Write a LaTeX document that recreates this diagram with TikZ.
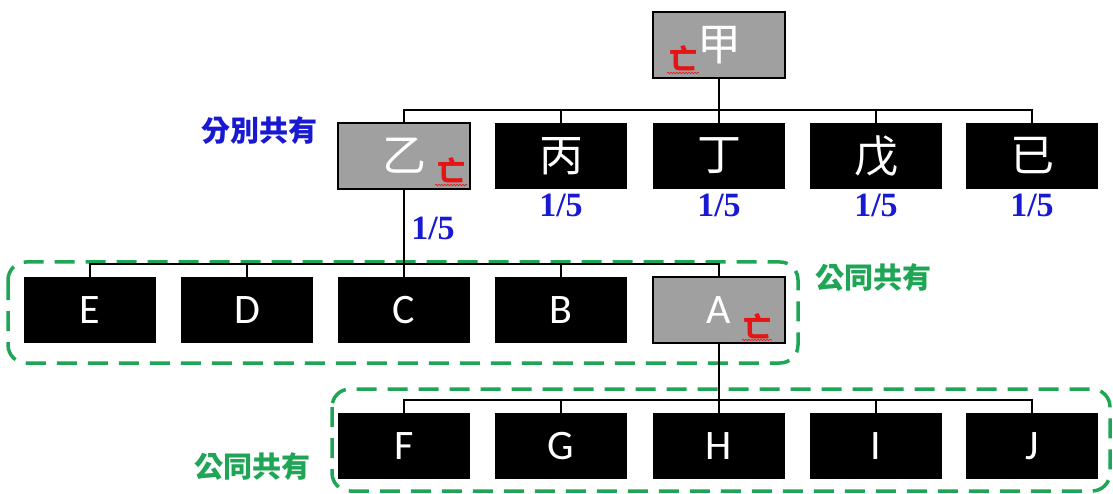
\documentclass[tikz,border=0pt]{standalone}
\usepackage{fontspec}
\setmainfont{Liberation Serif}
\newfontfamily\cjk{Noto Sans CJK TC}
\newfontfamily\latf{Carlito}
\usetikzlibrary{decorations.pathmorphing}
\definecolor{gbox}{RGB}{160,160,160}
\definecolor{grn}{RGB}{30,165,85}
\definecolor{blu}{RGB}{25,25,210}
\definecolor{rd}{RGB}{230,20,20}
\begin{document}
\begin{tikzpicture}[x=1pt,y=-1pt,
 person/.style={minimum width=132pt,minimum height=66pt,inner sep=0pt,text=white},
 alive/.style={person,fill=black},
 dead/.style={person,fill=gbox,draw=black,line width=2pt},
 cjkname/.style={font=\cjk\fontsize{44}{44}\selectfont},
 latname/.style={font=\latf\fontsize{42}{42}\selectfont},
 link/.style={line width=1.6pt},
 share/.style={text=blu,inner sep=0pt,font=\bfseries\fontsize{34}{34}\selectfont},
 group/.style={draw=grn,line width=3.5pt,dash pattern=on 20pt off 11pt,rounded corners=18pt},
 grouplabel/.style={text=grn,inner sep=0pt,font=\cjk\bfseries\fontsize{29}{29}\selectfont},
 deceased/.style={text=rd,font=\cjk\bfseries\fontsize{28}{28}\selectfont,inner sep=0pt},
 squig/.style={draw=rd,line width=0.6pt,decorate,decoration={snake,amplitude=0.8pt,segment length=3pt}}
]
\useasboundingbox (0,0) rectangle (1113,494);

% generation 1
\node[dead,cjkname] (jia) at (719,45) {甲};
% generation 2
\node[dead,cjkname] (yi) at (404,156) {乙};
\node[alive,cjkname] (bing) at (561,156) {丙};
\node[alive,cjkname] (ding) at (719,156) {丁};
\node[alive,cjkname] (wu) at (876,156) {戊};
\node[alive,cjkname] (ji) at (1032,156) {已};
% generation 3
\node[alive,latname] (E) at (90,310) {E};
\node[alive,latname] (D) at (247,310) {D};
\node[alive,latname] (C) at (404,310) {C};
\node[alive,latname] (B) at (561,310) {B};
\node[dead,latname] (A) at (719,310) {A};
% generation 4
\node[alive,latname] (F) at (404,446) {F};
\node[alive,latname] (G) at (561,446) {G};
\node[alive,latname] (H) at (719,446) {H};
\node[alive,latname] (I) at (876,446) {I};
\node[alive,latname] (J) at (1032,446) {J};

% groups
\draw[group] (8,262) rectangle (798,363);
\draw[group] (332,389) rectangle (1110,491);

% connectors
\coordinate (bar1) at (719,110);
\coordinate (bar2) at (404,264);
\coordinate (bar3) at (719,400);
\draw[link] (jia.south) -- (bar1);
\draw[link] (yi.north) |- (bar1);
\draw[link] (ji.north) |- (bar1);
\foreach \n in {bing,ding,wu} \draw[link] (\n.north) -- (\n.north |- bar1);
\draw[link] (yi.south) -- (bar2);
\draw[link] (E.north) |- (bar2);
\draw[link] (A.north) |- (bar2);
\foreach \n in {D,C,B} \draw[link] (\n.north) -- (\n.north |- bar2);
\draw[link] (A.south) -- (bar3);
\draw[link] (F.north) |- (bar3);
\draw[link] (J.north) |- (bar3);
\foreach \n in {G,H,I} \draw[link] (\n.north) -- (\n.north |- bar3);

% deceased marks
\node[deceased] (jiaX) at (683,58) {亡};
\draw[squig] (667,73) -- (699,73);
\node[deceased] (yiX) at (451,170) {亡};
\draw[squig] (435,185) -- (467,185);
\node[deceased] (AX) at (757,326) {亡};
\draw[squig] (742,340) -- (772,340);

% shares
\node[share] (s1) at (433,228) {1/5};
\node[share] (s2) at (561,205) {1/5};
\node[share] (s3) at (719,205) {1/5};
\node[share] (s4) at (876,205) {1/5};
\node[share] (s5) at (1032,205) {1/5};

% labels
\node[text=blu,inner sep=0pt,font=\cjk\bfseries\fontsize{29}{29}\selectfont] (sep) at (259,131) {分別共有};
\node[grouplabel] (g1) at (873,278) {公同共有};
\node[grouplabel] (g2) at (252,467) {公同共有};
\end{tikzpicture}
\end{document}
